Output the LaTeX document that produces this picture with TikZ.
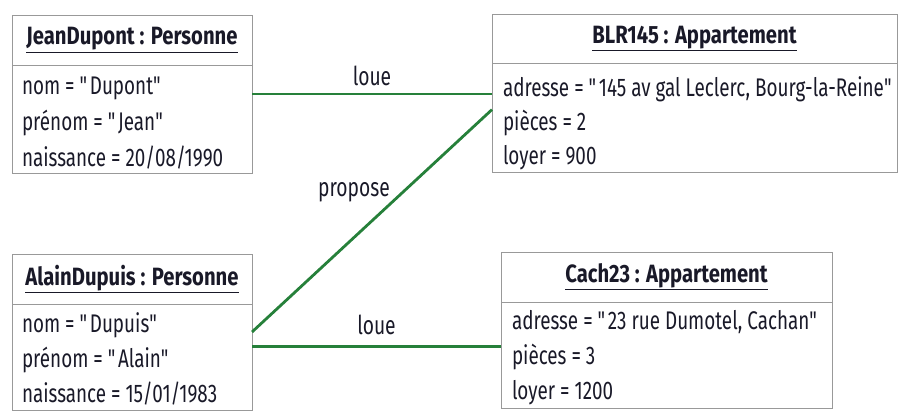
\documentclass[tikz,border=0pt]{standalone}
\usepackage{fontspec}
\setmainfont[FakeStretch=0.74]{Fira Sans}
\newfontfamily\titlefont[FakeStretch=0.81]{Fira Sans}
\usetikzlibrary{positioning}
\definecolor{assocgreen}{RGB}{38,128,58}
\definecolor{ink}{RGB}{25,25,40}
\newcommand\qd{\textquotedbl}
\tikzset{
  head/.style={draw=gray!80,line width=.6pt,inner sep=0pt,outer sep=0pt,anchor=north west,
    font=\titlefont\fontsize{25}{27}\selectfont\bfseries,text=ink},
  body/.style={draw=gray!80,line width=.6pt,inner sep=0pt,outer sep=0pt,anchor=north},
  attr/.style={inner sep=0pt,outer sep=0pt,anchor=base west,font=\fontsize{25.5}{27}\selectfont,text=ink},
  link/.style={draw=assocgreen,line width=2.8pt},
  role/.style={inner sep=0pt,font=\fontsize{26}{28}\selectfont,text=ink}
}
\begin{document}
\begin{tikzpicture}[x=1pt,y=-1pt]
\useasboundingbox (0,0) rectangle (899,412);
\node[head,minimum width=240pt,minimum height=50pt] (jeanhead) at (12,15) {\underline{JeanDupont : Personne}};
\node[body,minimum width=240pt,minimum height=108pt] (jeanbody) at (jeanhead.south) {};
\node[attr] (jeannom) at ([xshift=10pt,yshift=-29pt]jeanbody.north west) {nom = \qd Dupont\qd};
\node[attr] (jeanprenom) at ([yshift=-36pt]jeannom.base west) {prénom = \qd Jean\qd};
\node[attr] (jeannaiss) at ([yshift=-36pt]jeanprenom.base west) {naissance = 20/08/1990};
\node[head,minimum width=405pt,minimum height=49pt] (blrhead) at (492,14) {\underline{BLR145 : Appartement}};
\node[body,minimum width=405pt,minimum height=109pt] (blrbody) at (blrhead.south) {};
\node[attr] (blradresse) at ([xshift=11pt,yshift=-33pt]blrbody.north west) {adresse = \qd 145 av gal Leclerc, Bourg-la-Reine\qd};
\node[attr] (blrpieces) at ([yshift=-34pt]blradresse.base west) {pièces = 2};
\node[attr] (blrloyer) at ([yshift=-34pt]blrpieces.base west) {loyer = 900};
\node[head,minimum width=240pt,minimum height=50pt] (alainhead) at (12,254) {\underline{AlainDupuis : Personne}};
\node[body,minimum width=240pt,minimum height=106pt] (alainbody) at (alainhead.south) {};
\node[attr] (alainnom) at ([xshift=10pt,yshift=-28pt]alainbody.north west) {nom = \qd Dupuis\qd};
\node[attr] (alainprenom) at ([yshift=-35pt]alainnom.base west) {prénom = \qd Alain\qd};
\node[attr] (alainnaiss) at ([yshift=-35pt]alainprenom.base west) {naissance = 15/01/1983};
\node[head,minimum width=331pt,minimum height=50pt] (cachhead) at (501,252) {\underline{Cach23 : Appartement}};
\node[body,minimum width=331pt,minimum height=106pt] (cachbody) at (cachhead.south) {};
\node[attr] (cachadresse) at ([xshift=11pt,yshift=-27pt]cachbody.north west) {adresse = \qd 23 rue Dumotel, Cachan\qd};
\node[attr] (cachpieces) at ([yshift=-35pt]cachadresse.base west) {pièces = 3};
\node[attr] (cachloyer) at ([yshift=-35pt]cachpieces.base west) {loyer = 1200};
\draw[link] (jeanbody.east |- jeannom.base) -- node[role,above=7pt] (loue1) {loue} (blrbody.west |- jeannom.base);
\draw[link] (alainbody.east |- alainnom.base) -- node[role,pos=.63,anchor=east,xshift=-12pt] (propose) {propose} (blrbody.west |- blrpieces.north);
\draw[link] (alainbody.east |- alainprenom.north) -- node[role,above=10pt] (loue2) {loue} (cachbody.west |- alainprenom.north);
\end{tikzpicture}
\end{document}
